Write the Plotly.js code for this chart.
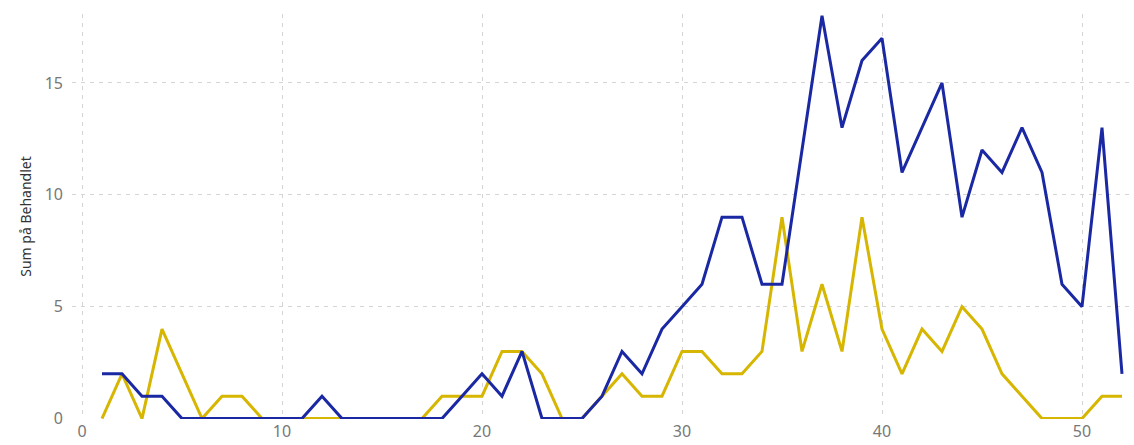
<!DOCTYPE html>
<html>
<head>
<meta charset="utf-8">
<script src="https://cdn.plot.ly/plotly-3.0.1.min.js"></script>
<style>
  html, body { margin: 0; padding: 0; background: #fff; }
  #chart { width: 1134px; height: 445px; }
</style>
</head>
<body>
<div id="chart"></div>
<script>
const weeks = Array.from({length: 52}, (_, i) => i + 1);
const blueValues = [2, 2, 1, 1, 0, 0, 0, 0, 0, 0, 0, 1, 0, 0, 0, 0, 0, 0, 1, 2, 1, 3, 0, 0, 0, 1,
                    3, 2, 4, 5, 6, 9, 9, 6, 6, 12, 18, 13, 16, 17, 11, 13, 15, 9, 12, 11, 13, 11, 6, 5, 13, 2];
const goldValues = [0, 2, 0, 4, 2, 0, 1, 1, 0, 0, 0, 0, 0, 0, 0, 0, 0, 1, 1, 1, 3, 3, 2, 0, 0, 1,
                    2, 1, 1, 3, 3, 2, 2, 3, 9, 3, 6, 3, 9, 4, 2, 4, 3, 5, 4, 2, 1, 0, 0, 0, 1, 1];
const xTicks = [0, 10, 20, 30, 40, 50];
const yTicks = [0, 5, 10, 15];
const yTitle = 'Sum på Behandlet';

const data = [
  { x: weeks, y: goldValues, type: 'scatter', mode: 'lines', name: 'B',
    line: { color: '#D6B600', width: 3 }, hoverinfo: 'x+y' },
  { x: weeks, y: blueValues, type: 'scatter', mode: 'lines', name: 'A',
    line: { color: '#1A29A3', width: 3 }, hoverinfo: 'x+y' }
];

const layout = {
  width: 1134, height: 445,
  margin: { l: 72, r: 0, t: 14, b: 26, pad: 0 },
  paper_bgcolor: '#ffffff', plot_bgcolor: '#ffffff',
  showlegend: false,
  font: { family: 'Noto Sans, Open Sans, sans-serif', color: '#777', size: 16 },
  xaxis: {
    range: [-0.5, 52.6], tickvals: xTicks, ticktext: xTicks.map(String),
    showgrid: true, gridcolor: '#d4d4d4', griddash: '4px,5px', gridwidth: 1,
    zeroline: false, showline: false, ticks: '', ticklabelstandoff: 1,
    tickfont: { size: 16, color: '#777' }
  },
  yaxis: {
    range: [-0.02, 18.08], tickvals: yTicks, ticktext: yTicks.map(String),
    showgrid: true, gridcolor: '#d4d4d4', griddash: '4px,5px', gridwidth: 1,
    zeroline: false, showline: false, ticks: '', ticklabelstandoff: 8,
    tickfont: { size: 16, color: '#777' },
    title: { text: yTitle, font: { size: 14, color: '#333' }, standoff: 9 }
  }
};

Plotly.newPlot('chart', data, layout, { displayModeBar: false, staticPlot: true });
</script>
</body>
</html>
